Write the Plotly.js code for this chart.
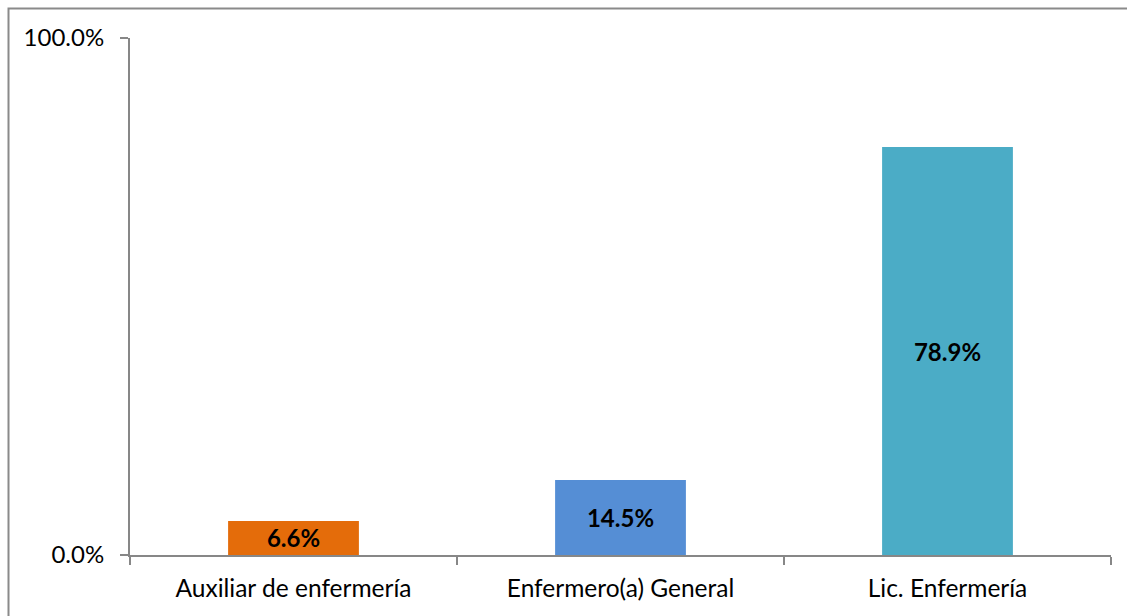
<!DOCTYPE html>
<html>
<head>
<meta charset="utf-8">
<script src="https://cdn.plot.ly/plotly-3.0.1.min.js"></script>
<style>
html,body{margin:0;padding:0;background:#fff;}
#chart{width:1127px;height:616px;}
</style>
</head>
<body>
<div id="chart"></div>
<script>
const categories = ["Auxiliar de enfermería", "Enfermero(a) General", "Lic. Enfermería"];
const values = [0.066, 0.145, 0.789];
const labels = ["6.6%", "14.5%", "78.9%"];
const colors = ["#E46C0A", "#558ED5", "#4BACC6"];
const yTickVals = [0, 1];
const yTickText = ["0.0%", "100.0%"];

const font = "Lato, 'Liberation Sans', sans-serif";
const axisGray = "#878787";

const trace = {
  type: "bar",
  x: categories,
  y: values,
  text: labels,
  textposition: "inside",
  insidetextanchor: "middle",
  constraintext: "none",
  textfont: {family: font, size: 24, color: "#000", weight: "bold"},
  marker: {color: colors},
  hoverinfo: "none"
};

const layout = {
  width: 1127,
  height: 616,
  margin: {l: 130, r: 16, t: 38, b: 61},
  paper_bgcolor: "#fff",
  plot_bgcolor: "#fff",
  showlegend: false,
  bargap: 0.6,
  font: {family: font, size: 24, color: "#000"},
  xaxis: {
    type: "category",
    tickson: "boundaries",
    ticks: "outside",
    ticklen: 8,
    tickwidth: 1.5,
    tickcolor: axisGray,
    showline: true,
    linecolor: axisGray,
    linewidth: 2,
    showgrid: false,
    ticklabelstandoff: 11,
    tickfont: {family: font, size: 24.5, color: "#000"},
    fixedrange: true
  },
  yaxis: {
    range: [0, 1],
    tickvals: yTickVals,
    ticktext: yTickText,
    ticks: "outside",
    ticklen: 8,
    tickwidth: 1.5,
    tickcolor: axisGray,
    showline: true,
    linecolor: axisGray,
    linewidth: 2,
    showgrid: true,
    gridcolor: axisGray,
    gridwidth: 1.5,
    zeroline: false,
    ticklabelstandoff: 11,
    tickfont: {family: font, size: 24, color: "#000"},
    fixedrange: true
  },
  shapes: [{
    type: "rect",
    xref: "paper", yref: "paper",
    x0: (8.5 - 130) / 981, x1: (1135 - 130) / 981,
    y0: (555 - 625) / 517, y1: (555 - 8.5) / 517,
    line: {color: "#8a8a8a", width: 2},
    fillcolor: "rgba(0,0,0,0)",
    layer: "below"
  }]
};

Plotly.newPlot("chart", [trace], layout, {displayModeBar: false, staticPlot: true});
</script>
</body>
</html>
